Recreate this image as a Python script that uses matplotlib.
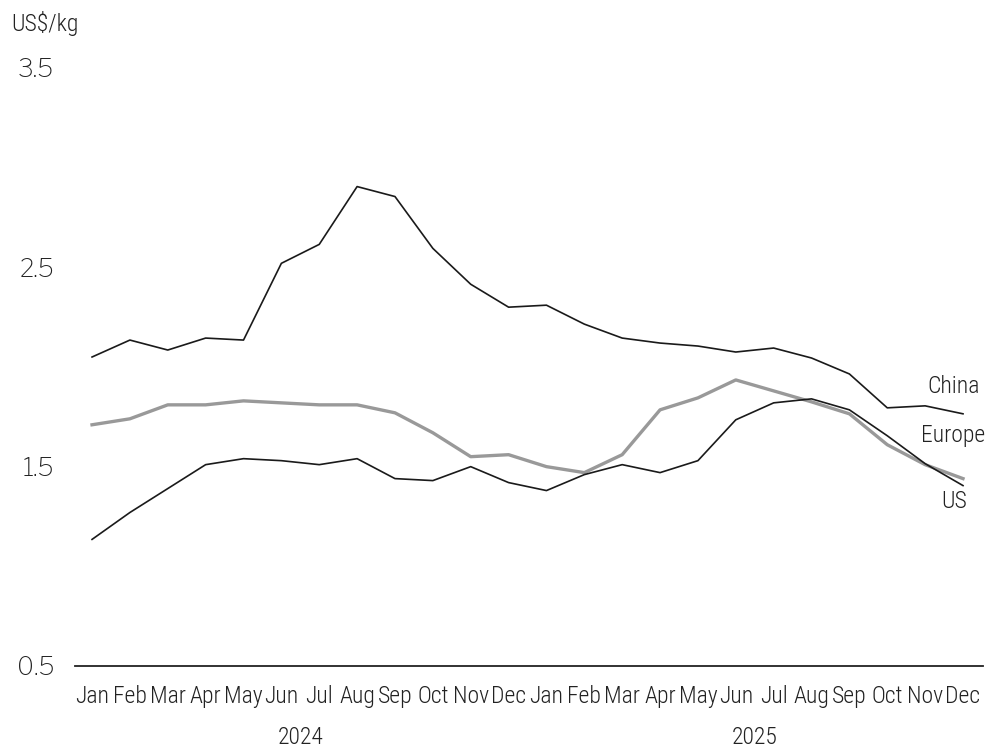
import matplotlib.pyplot as plt
import numpy as np

plt.rcParams['font.family'] = ['Roboto Condensed', 'DejaVu Sans']

months = ["Jan", "Feb", "Mar", "Apr", "May", "Jun", "Jul", "Aug", "Sep", "Oct", "Nov", "Dec"] * 2
years = ["2024", "2025"]

china = [2.05, 2.135, 2.085, 2.145, 2.135, 2.52, 2.615, 2.905, 2.855, 2.595, 2.415, 2.30,
         2.31, 2.215, 2.145, 2.12, 2.105, 2.075, 2.095, 2.045, 1.965, 1.795, 1.805, 1.765]
europe = [1.71, 1.74, 1.81, 1.81, 1.83, 1.82, 1.81, 1.81, 1.77, 1.67, 1.55, 1.56,
          1.50, 1.47, 1.56, 1.785, 1.845, 1.935, 1.88, 1.825, 1.765, 1.61, 1.51, 1.44]
us = [1.135, 1.27, 1.39, 1.51, 1.54, 1.53, 1.51, 1.54, 1.44, 1.43, 1.50, 1.42,
      1.38, 1.46, 1.51, 1.47, 1.53, 1.735, 1.82, 1.84, 1.785, 1.655, 1.515, 1.405]

x = np.arange(len(months))
txt = "#222222"
fs = 17
fw = "light"

fig = plt.figure(figsize=(9.92, 7.51), dpi=100)
ax = fig.add_axes([0.0756, 0.1132, 0.9154, 0.7963])

ax.plot(x, china, color="#1a1a1a", lw=1.2)
ax.plot(x, europe, color="#999999", lw=2.4)
ax.plot(x, us, color="#1a1a1a", lw=1.2)

ax.set_xlim(-0.45, 23.53)
ax.set_ylim(0.5, 3.5)
ax.set_yticks([0.5, 1.5, 2.5, 3.5])
ax.set_yticklabels(["0.5", "1.5", "2.5", "3.5"], fontsize=18, color=txt,
                   family=["Libre Franklin", "DejaVu Sans"])
ax.set_xticks(x)
ax.set_xticklabels(months, fontsize=fs, color=txt, fontweight=fw)
ax.tick_params(axis="both", length=0)
ax.tick_params(axis="x", pad=14)
ax.tick_params(axis="y", pad=15)

for s in ["top", "right", "left"]:
    ax.spines[s].set_visible(False)
ax.spines["bottom"].set_color("#222222")
ax.spines["bottom"].set_linewidth(1.3)

for i, yr in enumerate(years):
    ax.text(5.5 + 12 * i, -0.119, yr, transform=ax.get_xaxis_transform(),
            ha="center", va="center", fontsize=fs, color=txt, fontweight=fw)

ax.text(23.45, 1.90, "China", ha="right", va="center", fontsize=fs, color=txt, fontweight=fw)
ax.text(23.58, 1.655, "Europe", ha="right", va="center", fontsize=fs, color=txt, fontweight=fw)
ax.text(23.1, 1.325, "US", ha="right", va="center", fontsize=fs, color=txt, fontweight=fw)

fig.text(0.011, 0.969, "US$/kg", ha="left", va="center", fontsize=fs, color=txt, fontweight=fw)

fig.savefig("out.png", dpi=100)
